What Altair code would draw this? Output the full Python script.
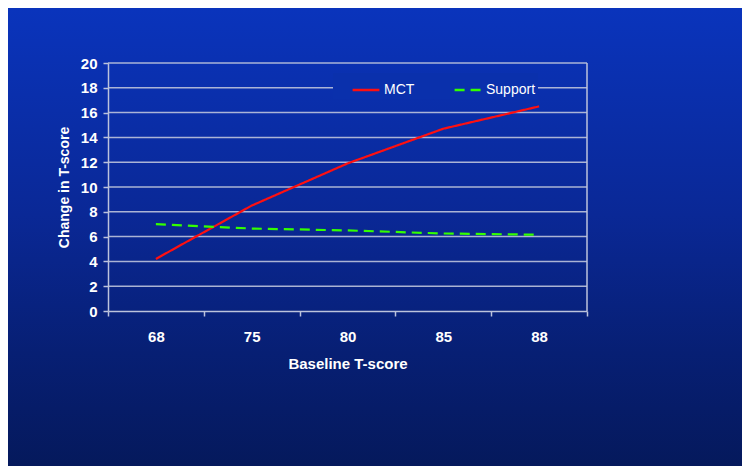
import altair as alt
import pandas as pd

baseline = ["68", "75", "80", "85", "88"]
mct = [4.2, 8.5, 11.9, 14.7, 16.5]
support = [7.0, 6.65, 6.5, 6.25, 6.15]
series_names = ["MCT", "Support"]
y_ticks = list(range(0, 21, 2))

rows = []
for b, m, s in zip(baseline, mct, support):
    rows.append({"baseline": b, "change": m, "series": "MCT"})
    rows.append({"baseline": b, "change": s, "series": "Support"})
df = pd.DataFrame(rows)

W, H = 479, 248
PL, PT, PR, PB = 100, 55, 155, 155
GRID = "#bcc3dc"

y_scale = alt.Scale(domain=[0, 20], nice=False)
y_axis = alt.Axis(values=y_ticks, tickSize=5, grid=False, zindex=1,
                  labelOverlap=False, labelFontSize=15, titleFontSize=14,
                  labelPadding=6, titlePadding=9, title="Change in T-score")

bg = alt.Chart(pd.DataFrame({"a": [0]})).mark_rect(
    fill=alt.Gradient(
        gradient="linear",
        stops=[
            alt.GradientStop(color="#0a34bc", offset=0),
            alt.GradientStop(color="#0a2896", offset=0.45),
            alt.GradientStop(color="#071f74", offset=0.75),
            alt.GradientStop(color="#05195c", offset=1),
        ],
        x1=0, x2=0, y1=0, y2=1,
    ),
    clip=False,
).encode(
    x=alt.value(-PL), x2=alt.value(W + PR),
    y=alt.value(-PT), y2=alt.value(H + PB),
)

grid = alt.Chart(pd.DataFrame({"t": y_ticks[1:]})).mark_rule(
    color=GRID, strokeWidth=1.5, opacity=0.9
).encode(y=alt.Y("t:Q", scale=y_scale, axis=y_axis, title="Change in T-score"))

right_border = alt.Chart(pd.DataFrame({"a": [0]})).mark_rule(
    color=GRID, strokeWidth=1.5
).encode(x=alt.value(W), y=alt.value(0), y2=alt.value(H))

lines = alt.Chart(df).mark_line(strokeWidth=2.2).encode(
    x=alt.X("baseline:N", sort=baseline, title="Baseline T-score",
            scale=alt.Scale(paddingInner=0, paddingOuter=0),
            axis=alt.Axis(labelAngle=0, tickBand="extent", tickSize=5,
                          labelPadding=13, titlePadding=12, grid=False, zindex=1,
                          labelFontSize=15, titleFontSize=15)),
    y=alt.Y("change:Q", title="Change in T-score", scale=y_scale, axis=y_axis),
    color=alt.Color("series:N", sort=series_names,
                    scale=alt.Scale(domain=series_names, range=["#ff1010", "#33ff00"]),
                    legend=alt.Legend(title=None, orient="none", legendX=225, legendY=10,
                                      direction="horizontal", columns=2,
                                      symbolType="stroke", symbolSize=720,
                                      symbolStrokeWidth=2.5, columnPadding=22,
                                      labelFontSize=14, labelColor="white",
                                      labelFont="Liberation Sans", labelOffset=3,
                                      fillColor="#0a30ac", padding=2,
                                      symbolOffset=16)),
    strokeDash=alt.StrokeDash("series:N", sort=series_names,
                              scale=alt.Scale(domain=series_names, range=[[1, 0], [10, 6]]),
                              legend=None),
)

chart = alt.layer(bg, grid, right_border, lines).properties(
    width=W, height=H,
    autosize=alt.AutoSizeParams(type="none"),
    padding={"left": PL, "top": PT, "right": PR, "bottom": PB},
    background="#0a2896",
).configure_view(
    stroke=None
).configure_axis(
    labelFont="Liberation Sans", labelFontWeight="bold", labelColor="white",
    titleFont="Liberation Sans", titleFontWeight="bold", titleColor="white",
    domainColor=GRID, domainWidth=1.5, tickColor=GRID, tickWidth=1.5,
)

chart.save("out.html", embed_options={"renderer": "svg", "actions": False})
